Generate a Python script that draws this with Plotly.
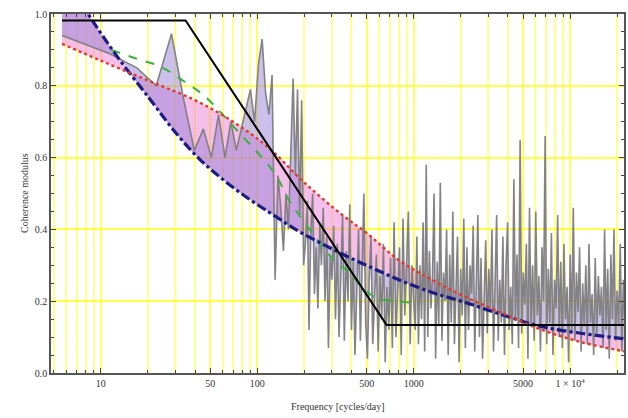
import plotly.graph_objects as go

# ---------------- data ----------------
data_freq = [5.65, 11.3, 17.0, 22.6, 28.3, 33.9, 39.6, 45.2, 50.9, 56.5, 62.2, 67.8, 73.5, 79.1, 84.8,
             90.4, 96.1, 101.7, 107.4, 113.0, 118.7, 124.3, 130.0, 135.6, 141.3, 146.9, 152.6, 158.2,
             163.9, 169.5, 175.2, 180.8, 186.5, 192.1, 197.8,
             203, 209, 214, 220, 226, 232, 238, 244, 251, 257, 264, 271, 278, 285, 293, 300, 308, 316,
             325, 333, 342, 351, 360, 370, 380, 390, 400, 411, 421, 433, 444, 456, 468, 480, 493, 506,
             519, 533, 547, 562, 577, 592, 608, 624, 640, 657, 675, 693, 711, 730, 749, 769, 790, 811,
             832, 854, 877, 900, 924, 949, 974, 1000,
             1023, 1047, 1072, 1096, 1122, 1148, 1175, 1202, 1230, 1259, 1288, 1318, 1349, 1380, 1413,
             1445, 1479, 1514, 1549, 1585, 1622, 1660, 1698, 1738, 1778, 1820, 1862, 1905, 1950, 1995,
             2042, 2089, 2138, 2188, 2239, 2291, 2344, 2399, 2455, 2512, 2570, 2630, 2692, 2754, 2818,
             2884, 2951, 3020, 3090, 3162, 3236, 3311, 3388, 3467, 3548, 3631, 3715, 3802, 3890, 3981,
             4074, 4169, 4266, 4365, 4467, 4571, 4677, 4786, 4898, 5012, 5129, 5248, 5370, 5495, 5623,
             5754, 5888, 6026, 6166, 6310, 6457, 6607, 6761, 6918, 7079, 7244, 7413, 7586, 7762, 7943,
             8128, 8318, 8511, 8710, 8913, 9120, 9333, 9550, 9772, 10000, 10233, 10471, 10715, 10965,
             11220, 11482, 11749, 12023, 12303, 12589, 12882, 13183, 13490, 13804, 14125, 14454, 14791,
             15136, 15488, 15849, 16218, 16596, 16982, 17378, 17783, 18197, 18621, 19055, 19498, 19953,
             20417, 20893, 21380, 21878, 22387]

data_coh = [0.94, 0.89, 0.85, 0.80, 0.945, 0.76, 0.62, 0.68, 0.60, 0.72, 0.60, 0.70, 0.62, 0.68, 0.74,
            0.79, 0.70, 0.86, 0.93, 0.78, 0.72, 0.83, 0.26, 0.55, 0.46, 0.34, 0.50, 0.40,
            0.62, 0.82, 0.55, 0.79, 0.44, 0.76, 0.30,
            0.36, 0.48, 0.12, 0.40, 0.50, 0.22, 0.35, 0.18, 0.42, 0.30, 0.46, 0.20, 0.38, 0.07, 0.33,
            0.26, 0.41, 0.15, 0.36, 0.10, 0.30, 0.44, 0.09, 0.34, 0.20, 0.47, 0.12, 0.31, 0.05, 0.28,
            0.40, 0.09, 0.30, 0.50, 0.14, 0.04, 0.26, 0.38, 0.08, 0.22, 0.33, 0.06, 0.27, 0.15, 0.36,
            0.03, 0.24, 0.12, 0.32, 0.07, 0.42, 0.10, 0.25, 0.35, 0.05, 0.43, 0.16, 0.28, 0.45, 0.08,
            0.30, 0.20,
            0.12, 0.38, 0.08, 0.30, 0.15, 0.42, 0.06, 0.58, 0.10, 0.34, 0.18, 0.27, 0.50, 0.04, 0.31,
            0.13, 0.53, 0.09, 0.28, 0.20, 0.40, 0.05, 0.33, 0.14, 0.45, 0.08, 0.26, 0.38, 0.03, 0.29,
            0.16, 0.43, 0.07, 0.35, 0.12, 0.30, 0.22, 0.41, 0.06, 0.27, 0.44, 0.10, 0.32, 0.04, 0.25,
            0.37, 0.11, 0.29, 0.17, 0.40, 0.06, 0.31, 0.44, 0.09, 0.26, 0.14, 0.38, 0.05, 0.30, 0.42,
            0.12, 0.24, 0.08, 0.54, 0.15, 0.33, 0.07, 0.65, 0.11, 0.28, 0.19, 0.36, 0.04, 0.46, 0.13,
            0.30, 0.09, 0.45, 0.16, 0.27, 0.06, 0.35, 0.20, 0.66, 0.08, 0.29, 0.14, 0.39, 0.05, 0.26,
            0.18, 0.44, 0.10, 0.31, 0.07, 0.36, 0.15, 0.24, 0.03, 0.33, 0.12, 0.46, 0.09, 0.28,
            0.17, 0.35, 0.06, 0.25, 0.13, 0.30, 0.08, 0.36, 0.14, 0.22, 0.05, 0.32, 0.11,
            0.27, 0.16, 0.24, 0.07, 0.40, 0.12, 0.29, 0.04, 0.33, 0.15, 0.40, 0.09, 0.23,
            0.13, 0.36, 0.06, 0.26, 0.14]

red_freq = [5.65, 10, 20, 40, 70, 120, 200, 350, 500, 800, 1300, 2200, 4000, 6600, 12000, 22400]
red_coh = [0.917, 0.87, 0.815, 0.76, 0.70, 0.625, 0.53, 0.44, 0.39, 0.315, 0.26, 0.21, 0.16, 0.12, 0.085, 0.06]

blue_freq = [5.65, 8.3, 12.6, 20.5, 30, 42.7, 62, 89, 130, 185, 270, 386, 560, 800, 1300, 2150, 3800,
             6600, 12000, 22400]
blue_coh = [1.12, 1.0, 0.884, 0.764, 0.67, 0.596, 0.535, 0.484, 0.437, 0.394, 0.356, 0.322, 0.29, 0.26,
            0.225, 0.196, 0.16, 0.129, 0.11, 0.095]

green_freq = [11.7, 17, 23.7, 32, 45, 60, 80, 100, 132, 160, 200, 300, 385, 480, 570, 750, 1070]
green_coh = [0.90, 0.875, 0.855, 0.82, 0.775, 0.72, 0.66, 0.615, 0.55, 0.48, 0.42, 0.32, 0.28, 0.235,
             0.21, 0.20, 0.195]

black_freq = [5.65, 34.8, 670, 22400]
black_coh = [0.982, 0.982, 0.134, 0.134]

x_tickvals = [10, 50, 100, 500, 1000, 5000, 10000]
x_ticktext = ["10", "50", "100", "500", "1000", "5000", "1 × 10<sup>4</sup>"]
x_minorvals = [m * 10 ** e for e in range(0, 5) for m in range(1, 10)]
y_tickvals = [0.0, 0.2, 0.4, 0.6, 0.8, 1.0]
y_ticktext = ["0.0", "0.2", "0.4", "0.6", "0.8", "1.0"]

# ---------------- figure ----------------
fig = go.Figure()

hidden = dict(width=0, shape="spline", color="rgba(0,0,0,0)")
fig.add_trace(go.Scatter(x=blue_freq, y=blue_coh, mode="lines", line=hidden, hoverinfo="skip"))
fig.add_trace(go.Scatter(x=red_freq, y=red_coh, mode="lines", line=hidden, fill="tonexty",
                         fillcolor="rgba(236,110,210,0.45)", hoverinfo="skip"))
fig.add_trace(go.Scatter(x=blue_freq, y=blue_coh, mode="lines", line=hidden, hoverinfo="skip"))
fig.add_trace(go.Scatter(x=data_freq, y=data_coh, mode="lines",
                         line=dict(color="rgba(125,125,125,0.95)", width=1.6),
                         fill="tonexty", fillcolor="rgba(150,130,215,0.5)"))

fig.add_trace(go.Scatter(x=green_freq, y=green_coh, mode="lines",
                         line=dict(color="#3cb043", width=2, dash="dash", shape="spline")))
fig.add_trace(go.Scatter(x=blue_freq, y=blue_coh, mode="lines",
                         line=dict(color="#1c1c85", width=3.2, dash="dashdot", shape="spline")))
fig.add_trace(go.Scatter(x=red_freq, y=red_coh, mode="lines",
                         line=dict(color="#e23a2a", width=2.4, dash="dot", shape="spline")))
fig.add_trace(go.Scatter(x=black_freq, y=black_coh, mode="lines",
                         line=dict(color="black", width=2)))

font = dict(family="Liberation Serif", size=10, color="#333")
hgrid_col = "rgba(255,255,40,0.85)"
vgrid_col = "rgba(255,255,70,0.6)"

fig.update_layout(
    width=628, height=418,
    margin=dict(l=51, r=2, t=14, b=45),
    paper_bgcolor="white", plot_bgcolor="white",
    showlegend=False,
    font=font,
    xaxis=dict(type="log", range=[0.6815, 4.344],
               tickmode="array", tickvals=x_tickvals, ticktext=x_ticktext,
               showgrid=True, gridcolor=vgrid_col, gridwidth=2,
               ticks="inside", ticklen=5, tickcolor="#444",
               showline=True, linecolor="#555", linewidth=1.5, mirror="allticks",
               tickfont=font, zeroline=False,
               minor=dict(tickmode="array", tickvals=x_minorvals, showgrid=True,
                          gridcolor=vgrid_col, gridwidth=2, ticks="inside", ticklen=3,
                          tickcolor="#444")),
    yaxis=dict(range=[0, 1], tickmode="array", tickvals=y_tickvals, ticktext=y_ticktext,
               showgrid=True, gridcolor=hgrid_col, gridwidth=2,
               ticks="inside", ticklen=5, tickcolor="#444",
               showline=True, linecolor="#555", linewidth=1.5, mirror="allticks",
               tickfont=font, zeroline=False,
               minor=dict(dtick=0.05, ticks="inside", ticklen=3, tickcolor="#444", showgrid=False)),
    annotations=[
        dict(text="Frequency [cycles/day]", xref="paper", yref="paper", x=0.5, y=0,
             yshift=-41, showarrow=False, font=dict(family="Liberation Serif", size=10, color="#333")),
        dict(text="Coherence modulus", xref="paper", yref="paper", x=0, y=0.5, xshift=-34,
             textangle=-90, showarrow=False,
             font=dict(family="Liberation Serif", size=10, color="#333")),
    ],
)

fig.write_html("out.html")
